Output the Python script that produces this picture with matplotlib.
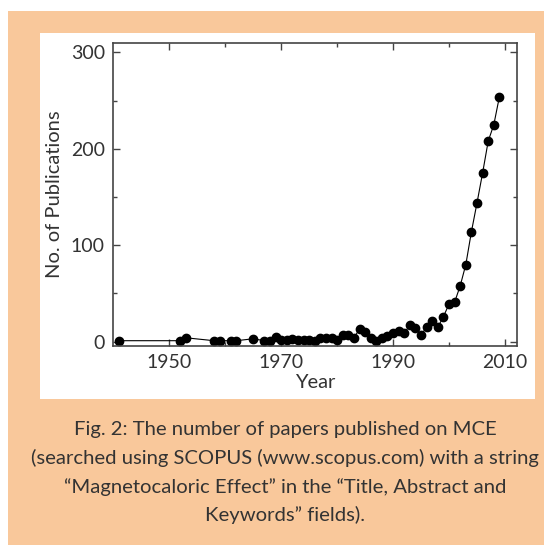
import matplotlib
matplotlib.use("Agg")
import matplotlib.pyplot as plt
from matplotlib.patches import Rectangle

years = [1941, 1952, 1953, 1958, 1959, 1961, 1962, 1965,
         1967, 1968, 1969, 1970, 1971, 1972, 1973, 1974, 1975, 1976, 1977, 1978, 1979,
         1980, 1981, 1982, 1983, 1984, 1985, 1986, 1987, 1988, 1989,
         1990, 1991, 1992, 1993, 1994, 1995, 1996, 1997, 1998, 1999,
         2000, 2001, 2002, 2003, 2004, 2005, 2006, 2007, 2008, 2009]
publications = [1, 1, 4, 1, 1, 1, 1, 3,
                1, 1, 5, 2, 2, 3, 2, 2, 2, 1, 4, 4, 4,
                2, 7, 7, 4, 13, 10, 4, 1, 4, 6,
                9, 11, 9, 17, 14, 7, 15, 21, 15, 26,
                39, 41, 58, 80, 114, 144, 175, 208, 225, 254]

x_major = [1950, 1970, 1990, 2010]
x_minor = [1960, 1980, 2000]
y_major = [0, 100, 200, 300]
y_minor = [50, 150, 250]

xlabel = "Year"
ylabel = "No. of Publications"
caption = ["Fig. 2: The number of papers published on MCE",
           "(searched using SCOPUS (www.scopus.com) with a string",
           "\u201cMagnetocaloric Effect\u201d in the \u201cTitle, Abstract and",
           "Keywords\u201d fields)."]

W, H = 544, 545
fig = plt.figure(figsize=(W / 100, H / 100), dpi=100)
fig.patch.set_facecolor("white")

peach = "#F9C89B"
txt = "#333333"
font = ["Lato", "DejaVu Sans"]

# peach background panel
fig.add_artist(Rectangle((8 / W, 0), 1 - 8 / W, (H - 11) / H,
                         transform=fig.transFigure, facecolor=peach, edgecolor="none", zorder=0))
# white plot panel
fig.add_artist(Rectangle((40 / W, (H - 399) / H), (535 - 40) / W, (399 - 33) / H,
                         transform=fig.transFigure, facecolor="white", edgecolor="none", zorder=0))

ax_l, ax_r, ax_t, ax_b = 113.3, 517.3, 43.3, 346.0
ax = fig.add_axes([ax_l / W, (H - ax_b) / H, (ax_r - ax_l) / W, (ax_b - ax_t) / H])
ax.set_zorder(2)
ax.patch.set_facecolor("white")

ax.plot(years, publications, color="black", lw=0.8, marker="o", ms=6,
        markerfacecolor="black", markeredgecolor="black")

ax.set_xlim(1940, 2012.2)
ax.set_ylim(-4.5, 309.5)
ax.set_xticks(x_major)
ax.set_xticks(x_minor, minor=True)
ax.set_yticks(y_major)
ax.set_yticks(y_minor, minor=True)
ax.tick_params(which="both", direction="in", top=True, right=True, color="#444444", width=1.0)
ax.tick_params(which="major", length=5, pad=6, labelsize=14, labelcolor=txt)
ax.tick_params(which="minor", length=3)
for lab in ax.get_xticklabels() + ax.get_yticklabels():
    lab.set_family(font)
for s in ax.spines.values():
    s.set_color("#444444")
    s.set_linewidth(1.2)

ax.set_xlabel(xlabel, fontsize=14.5, color=txt, family=font, labelpad=2)
ax.set_ylabel(ylabel, fontsize=14.5, color=txt, family=font, labelpad=6)

cap_y = [429, 458, 487, 515]
for line, yy in zip(caption, cap_y):
    fig.text(285 / W, 1 - yy / H, line, ha="center", va="center", fontsize=14.6,
             color=txt, family=font)

fig.savefig("out.png", dpi=100, facecolor=fig.get_facecolor())
